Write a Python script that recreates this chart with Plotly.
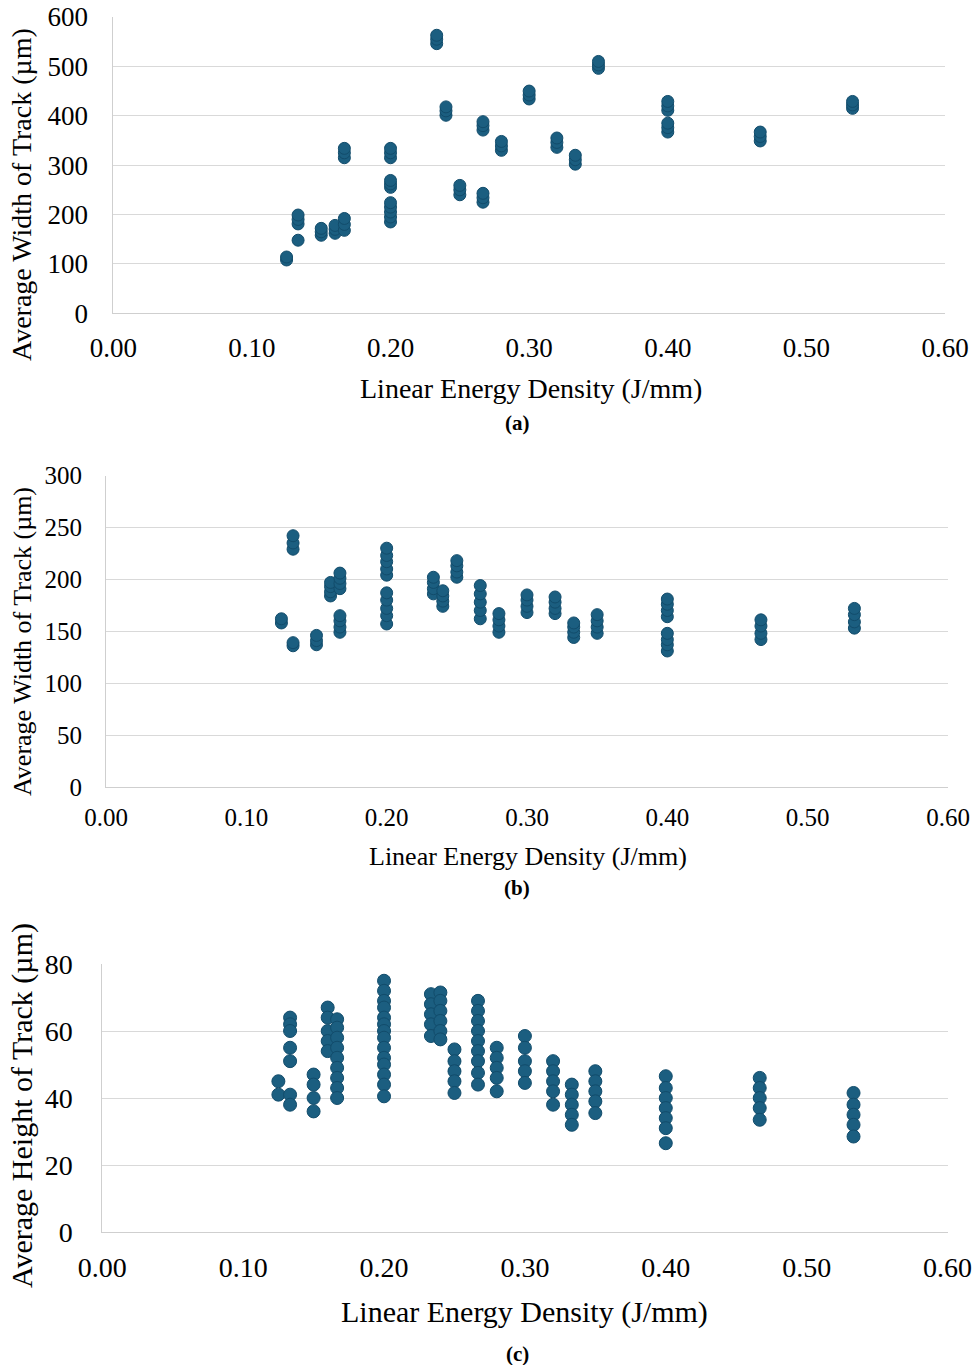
import plotly.graph_objects as go

# Linear energy density levels (J/mm)
energy_levels = [0.125, 0.1333, 0.15, 0.16, 0.1667, 0.2, 0.2333, 0.24, 0.25,
                 0.2667, 0.28, 0.3, 0.32, 0.3333, 0.35, 0.4, 0.4667, 0.5333]

# (a) average track width (um), one list per energy level
width_a = [
    [108, 114],
    [148, 181, 190, 199],
    [158, 165, 172],
    [162, 170, 178],
    [168, 180, 192, 315, 325, 334],
    [185, 195, 205, 215, 224, 255, 262, 269, 315, 325, 334],
    [546, 555, 563],
    [401, 410, 418],
    [240, 250, 259],
    [225, 234, 243, 371, 380, 388],
    [330, 339, 348],
    [434, 442, 450],
    [336, 346, 355],
    [302, 311, 320],
    [496, 503, 510],
    [367, 376, 385, 411, 420, 429],
    [349, 358, 367],
    [415, 422, 429],
]

# (b) average track width (um)
width_b = [
    [158, 162],
    [229, 235, 242, 136, 139],
    [137, 141, 146],
    [184, 188, 193, 197],
    [191, 196, 201, 206, 149, 154, 160, 165],
    [204, 210, 217, 223, 230, 157, 165, 172, 180, 187],
    [186, 191, 197, 202],
    [174, 179, 184, 189],
    [202, 207, 213, 218],
    [162, 170, 178, 186, 194],
    [149, 155, 161, 167],
    [168, 174, 180, 185],
    [167, 172, 178, 183],
    [144, 149, 154, 158],
    [148, 154, 160, 166],
    [164, 170, 176, 181, 131, 137, 142, 148],
    [142, 148, 155, 161],
    [153, 159, 166, 172],
]

# (c) average track height (um)
height_c = [
    [45, 41],
    [64, 62, 60, 55, 51, 41, 38],
    [47, 44, 40, 36],
    [67, 64, 60, 57, 54],
    [63.5, 61, 58, 55, 52, 49, 46, 43, 40],
    [75, 72, 69, 67, 64, 62, 60, 58, 55, 52, 50, 47, 44, 40.5],
    [71, 68, 65, 62, 58.5],
    [71.5, 69, 66, 63, 60, 57.5],
    [54.5, 51, 48, 45, 41.5],
    [69, 66, 63, 60, 57, 54, 51, 47.5, 44],
    [55, 52, 49, 46, 42],
    [58.5, 55, 51, 48, 44.5],
    [51, 48, 45, 42, 38],
    [44, 41, 38, 35, 32],
    [48, 45, 42, 39, 35.5],
    [46.5, 43, 40, 37, 34, 31, 26.5],
    [46, 43, 40, 37, 33.5],
    [41.5, 38, 35, 32, 28.5],
]

x_tick_vals = [0.0, 0.1, 0.2, 0.3, 0.4, 0.5, 0.6]
x_title = "Linear Energy Density (J/mm)"
y_titles = ["Average Width of Track (µm)", "Average Width of Track (µm)",
            "Average Height of Track (µm)"]
panel_labels = ["(a)", "(b)", "(c)"]

W, H = 975, 1365
FONT = "Liberation Serif, Times New Roman, serif"
FILL = "#1B5E80"
EDGE = "#124C6B"
GRID = "#d9d9d9"
AXIS = "#cfcfcf"


def fx(px):
    return px / W


def fy(py):
    return 1 - py / H


def flatten(groups):
    xs, ys = [], []
    for e, vals in zip(energy_levels, groups):
        xs.extend([e] * len(vals))
        ys.extend(vals)
    return xs, ys


fig = go.Figure()

panels = [
    # data, axis suffix, marker size
    (width_a, "", 12),
    (width_b, "2", 12),
    (height_c, "3", 13),
]
for groups, sfx, msize in panels:
    xs, ys = flatten(groups)
    fig.add_trace(go.Scatter(
        x=xs, y=ys, mode="markers",
        xaxis="x" + sfx, yaxis="y" + sfx,
        marker=dict(size=msize, color=FILL, line=dict(color=EDGE, width=1)),
        hoverinfo="x+y",
    ))

# per-panel geometry (pixels) and fonts
geom = [
    dict(x0=113.3, x1=945.0, y0=17.0, y1=313.3, yr=[0, 600], dy=100,
         tf=27, xtl=10, ytl=19, tt=28, xt=(530.5, 388), yt=(22, 195), lab=(517, 423)),
    dict(x0=106.0, x1=948.0, y0=475.5, y1=787.0, yr=[0, 300], dy=50,
         tf=25, xtl=8, ytl=18, tt=26, xt=(527.5, 856), yt=(22, 642), lab=(517, 888)),
    dict(x0=102.3, x1=947.5, y0=964.0, y1=1232.0, yr=[0, 80], dy=20,
         tf=28, xtl=10, ytl=23, tt=30, xt=(524.5, 1312), yt=(22, 1106), lab=(517, 1354)),
]

layout = dict(
    width=W, height=H,
    margin=dict(l=0, r=0, t=0, b=0, autoexpand=False),
    plot_bgcolor="white", paper_bgcolor="white",
    showlegend=False,
    font=dict(family=FONT, color="#000000"),
)

annotations = []
for i, g in enumerate(geom):
    sfx = "" if i == 0 else str(i + 1)
    layout["xaxis" + sfx] = dict(
        domain=[fx(g["x0"]), fx(g["x1"])],
        anchor="y" + sfx, automargin=False,
        range=[0, 0.6], tickvals=x_tick_vals, tickformat=".2f",
        showgrid=False, zeroline=False,
        showline=True, linecolor=AXIS, linewidth=1,
        ticks="outside", ticklen=g["xtl"], tickcolor="rgba(0,0,0,0)",
        tickfont=dict(size=g["tf"], family=FONT, color="#000"),
    )
    layout["yaxis" + sfx] = dict(
        domain=[fy(g["y1"]), fy(g["y0"])],
        anchor="x" + sfx, automargin=False,
        range=g["yr"], dtick=g["dy"],
        showgrid=True, gridcolor=GRID, gridwidth=1, zeroline=False,
        showline=True, linecolor=AXIS, linewidth=1,
        ticks="outside", ticklen=g["ytl"], tickcolor="rgba(0,0,0,0)",
        tickfont=dict(size=g["tf"], family=FONT, color="#000"),
    )
    annotations.append(dict(
        text=x_title, xref="paper", yref="paper",
        x=fx(g["xt"][0]), y=fy(g["xt"][1]),
        xanchor="center", yanchor="middle", showarrow=False,
        font=dict(size=g["tt"], family=FONT, color="#000"),
    ))
    annotations.append(dict(
        text=y_titles[i], xref="paper", yref="paper",
        x=fx(g["yt"][0]), y=fy(g["yt"][1]), textangle=-90,
        xanchor="center", yanchor="middle", showarrow=False,
        font=dict(size=g["tt"], family=FONT, color="#000"),
    ))
    annotations.append(dict(
        text="<b>" + panel_labels[i] + "</b>", xref="paper", yref="paper",
        x=fx(g["lab"][0]), y=fy(g["lab"][1]),
        xanchor="center", yanchor="middle", showarrow=False,
        font=dict(size=21, family=FONT, color="#000"),
    ))

layout["annotations"] = annotations
fig.update_layout(**layout)

fig.write_html("out.html")
